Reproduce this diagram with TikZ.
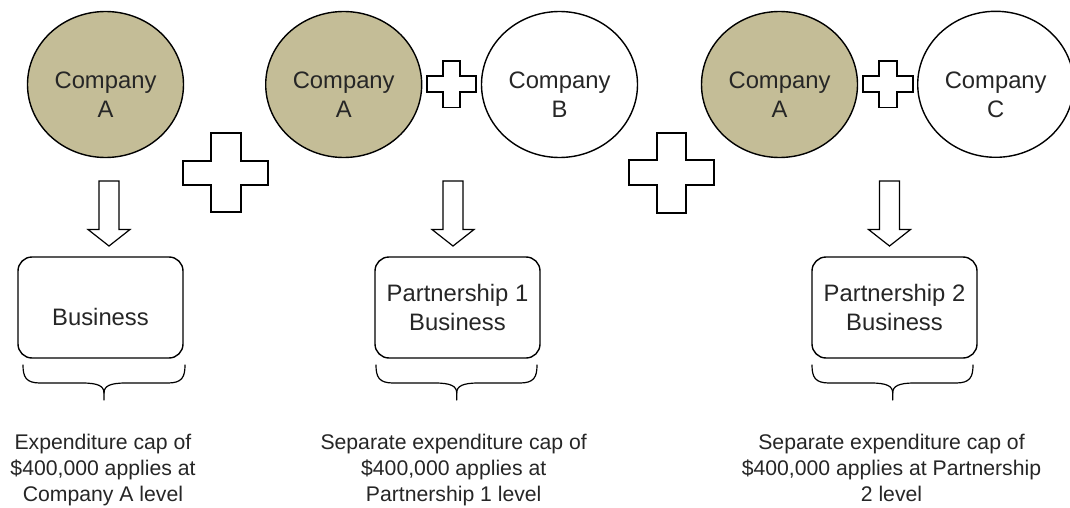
\documentclass[tikz,border=0pt]{standalone}
\usepackage{fontspec}
\setmainfont{Liberation Sans}
\usetikzlibrary{shapes.geometric}
\definecolor{tan}{HTML}{C4BD97}
\definecolor{ink}{HTML}{262626}
\newcommand{\plusat}[8]{%
  \draw[plusline] (#2,#5) -- (#3,#5) -- (#3,#6) -- (#4,#6) -- (#4,#7) -- (#3,#7) -- (#3,#8) -- (#2,#8) -- (#2,#7) -- (#1,#7) -- (#1,#6) -- (#2,#6) -- cycle;}
\newcommand{\blockdown}[1]{%
  \draw[plusline] ({#1-10},181) -- ({#1+10},181) -- ({#1+10},229.5) -- ({#1+21},229.5) -- (#1,246) -- ({#1-21},229.5) -- ({#1-10},229.5) -- cycle;}
\newcommand{\capbrace}[3]{%
  \draw[braceline] (#1,365) .. controls (#1,377) and ({#1+3},383) .. ({#1+17},383) -- ({#2-22},383) .. controls ({#2-6},383) and (#2,386) .. (#2,393) -- (#2,400);
  \draw[braceline] (#3,365) .. controls (#3,377) and ({#3-3},383) .. ({#3-17},383) -- ({#2+22},383) .. controls ({#2+6},383) and (#2,386) .. (#2,393);}
\newcommand{\fl}{\rule{0pt}{20pt}}
\begin{document}
\begin{tikzpicture}[x=1pt,y=-1pt,
  company/.style={ellipse, draw=black, line width=1.4pt, minimum width=156pt, minimum height=146pt, inner sep=0pt},
  partner/.style={company, fill=tan},
  other/.style={company, fill=white},
  biz/.style={draw=black, line width=1.4pt, rounded corners=14pt, minimum width=165pt, minimum height=101pt, inner sep=0pt},
  bigtext/.style={text=ink, font=\fontsize{23.8}{28.7}\selectfont, align=center, inner sep=0pt, anchor=north},
  captext/.style={text=ink, font=\fontsize{21.2}{26}\selectfont, align=center, inner sep=0pt, anchor=north},
  plusline/.style={draw=black, line width=1.2pt, fill=white, line join=miter},
  braceline/.style={draw=black, line width=1.2pt, line cap=round}]
\clip (0,0) rectangle (1070,508);
\fill[white] (0,0) rectangle (1070,508);

% companies
\node[partner] (a1) at (105.5,84.5) {};
\node[partner] (a2) at (343.7,84.5) {};
\node[other]   (b)  at (559.5,84.5) {};
\node[partner] (a3) at (779.5,84.5) {};
\node[other]   (c)  at (995.7,84.3) {};
\node[bigtext] (ta1) at (105.5,88.3-20) {\fl Company\\A};
\node[bigtext] (ta2) at (343.7,88.3-20) {\fl Company\\A};
\node[bigtext] (tb)  at (559.5,88.3-20) {\fl Company\\B};
\node[bigtext] (ta3) at (779.5,88.3-20) {\fl Company\\A};
\node[bigtext] (tc)  at (995.7,88.3-20) {\fl Company\\C};

% plus signs
\plusat{183}{211}{241}{268}{133}{161}{185}{212}
\plusat{629}{657}{686}{714}{133}{160}{185}{213}
\plusat{427}{443}{460}{476}{61}{76}{92}{107.5}
\plusat{863}{879}{897}{913}{61}{76}{92}{107.5}

% block arrows
\blockdown{109}
\blockdown{453}
\blockdown{889.5}

% business boxes
\node[biz] (p0) at (100.5,307.5) {};
\node[biz] (p1) at (457.5,307.5) {};
\node[biz] (p2) at (894.5,307.5) {};
\node[bigtext] (tp0) at (100.5,325-20) {\fl Business};
\node[bigtext] (tp1) at (457.5,301.7-20) {\fl Partnership 1\\Business};
\node[bigtext] (tp2) at (894.5,301.7-20) {\fl Partnership 2\\Business};

% braces
\capbrace{23}{104}{185}
\capbrace{376}{456.7}{537}
\capbrace{812}{892.7}{973}

% captions
\node[captext] (c0) at (103,449-20) {\fl Expenditure cap of\\\$400,000 applies at\\Company A level};
\node[captext] (c1) at (453.7,449-20) {\fl Separate expenditure cap of\\\$400,000 applies at\\Partnership 1 level};
\node[captext] (c2) at (891.5,449-20) {\fl Separate expenditure cap of\\\$400,000 applies at Partnership\\2 level};
\end{tikzpicture}
\end{document}
